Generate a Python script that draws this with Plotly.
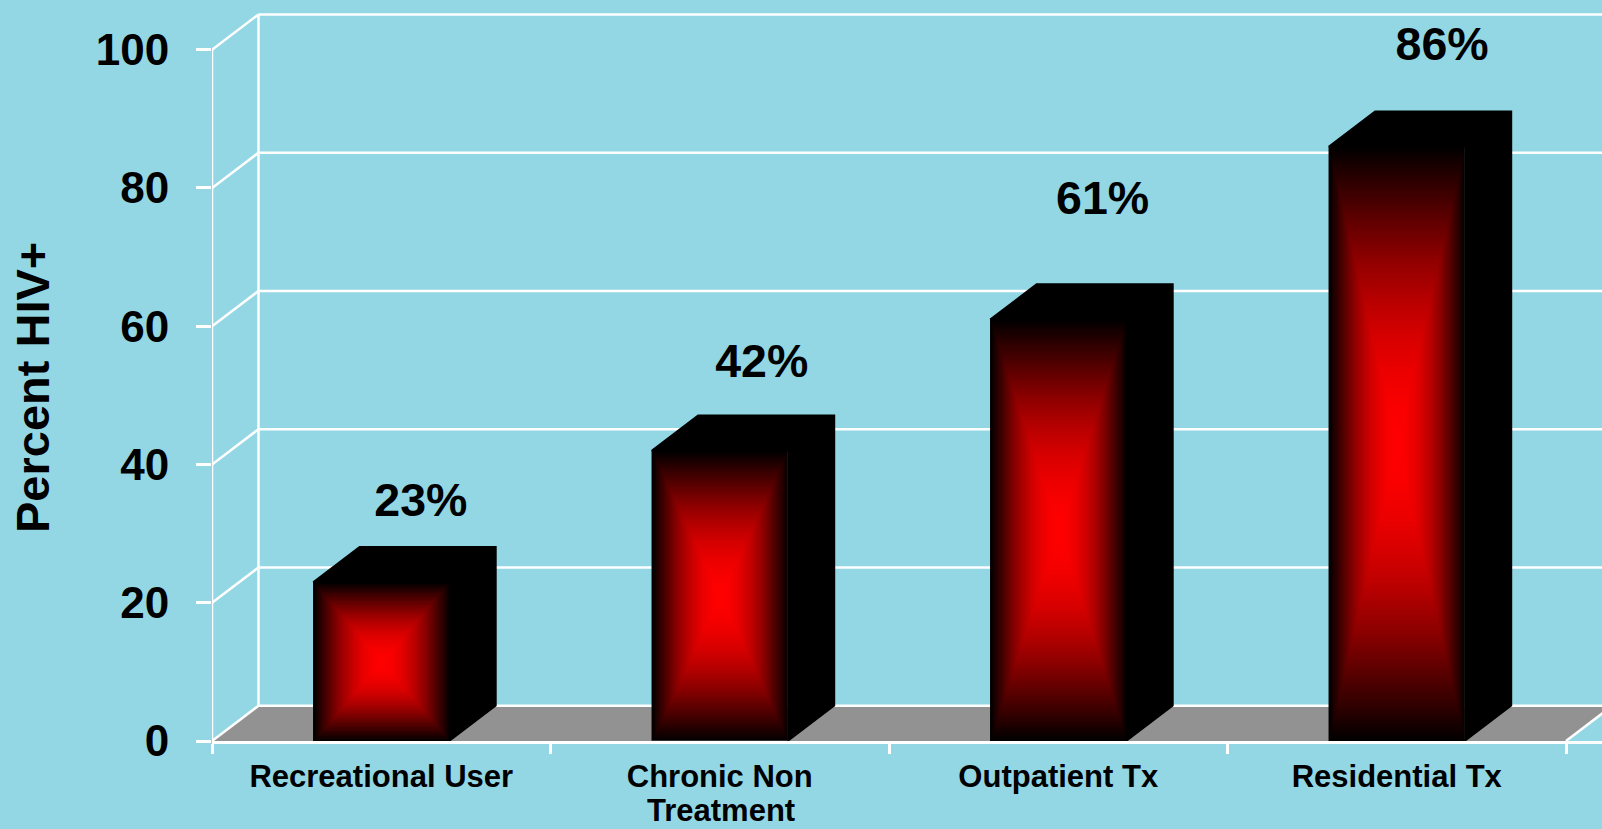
import numpy as np
import plotly.graph_objects as go

# ---- data ----
categories = ["Recreational User", "Chronic Non", "Outpatient Tx", "Residential Tx"]
second_line = "Treatment"
percent_hiv = [23, 42, 61, 86]
value_labels = ["23%", "42%", "61%", "86%"]
y_ticks = [0, 20, 40, 60, 80, 100]

# ---- style / layout constants ----
BG = "#93D7E5"
FLOOR = "#929292"
WHITE = "#FFFFFF"
FONT = "Liberation Sans"
W, H = 1602, 829
M_L, M_R, M_T, M_B = 212, 0, 8, 88
PX_PER_CAT = 338.5
PX_PER_VAL = 6.913
DEPTH_X = 46.5 / PX_PER_CAT      # oblique depth in axis units
DEPTH_Y = 35.3 / PX_PER_VAL
BAR_W = 0.403
LABEL_LIFT = [11.24, 12.36, 16.9, 14.15]   # height of value label above bar top
LABEL_SHIFT = [0.117, 0.124, 0.131, 0.134]
GRID_W = 2.5
NX, NY = 81, 121
GRADIENT = [[0, "#000000"], [0.125, "#320000"], [0.25, "#610000"], [0.375, "#8E0000"], [0.5, "#B40000"],
            [0.625, "#D40000"], [0.75, "#EB0000"], [0.875, "#FA0000"], [1, "#FF0000"]]

x_max = (W - M_L - M_R) / PX_PER_CAT
y_max = (H - M_T - M_B) / PX_PER_VAL
n_cat = len(categories)
plot_w, plot_h = W - M_L - M_R, H - M_T - M_B

fig = go.Figure()
shapes = []

# floor
shapes.append(dict(type="path", layer="below", xref="x", yref="y", line=dict(width=0), fillcolor=FLOOR,
                   path=f"M0,0 L{n_cat},0 L{n_cat+DEPTH_X},{DEPTH_Y} L{DEPTH_X},{DEPTH_Y} Z"))
# back wall gridlines and oblique side gridlines
for t in y_ticks:
    shapes.append(dict(type="line", layer="below", xref="x", yref="y", x0=DEPTH_X, x1=x_max,
                       y0=t + DEPTH_Y, y1=t + DEPTH_Y, line=dict(color=WHITE, width=GRID_W)))
    shapes.append(dict(type="line", layer="below", xref="x", yref="y", x0=0, x1=DEPTH_X,
                       y0=t, y1=t + DEPTH_Y, line=dict(color=WHITE, width=GRID_W)))
shapes.append(dict(type="line", layer="below", xref="x", yref="y", x0=DEPTH_X, x1=DEPTH_X,
                   y0=DEPTH_Y, y1=y_ticks[-1] + DEPTH_Y, line=dict(color=WHITE, width=GRID_W)))
shapes.append(dict(type="line", layer="below", xref="x", yref="y", x0=n_cat, x1=n_cat + DEPTH_X,
                   y0=0, y1=DEPTH_Y, line=dict(color=WHITE, width=GRID_W)))

# front vertical axis line, stopping at the top tick
fig.add_trace(go.Scatter(x=[0, 0], y=[y_ticks[0], y_ticks[-1]], mode="lines", line=dict(color=WHITE, width=GRID_W),
                         cliponaxis=False, hoverinfo="skip", showlegend=False))

# bars
for i, v in enumerate(percent_hiv):
    xl, xr = i + 0.5 - BAR_W / 2, i + 0.5 + BAR_W / 2
    # black top + side
    fig.add_trace(go.Scatter(
        x=[xl, xl + DEPTH_X, xr + DEPTH_X, xr + DEPTH_X, xr, xr, xl],
        y=[v, v + DEPTH_Y, v + DEPTH_Y, DEPTH_Y, 0, v, v],
        mode="lines", fill="toself", fillcolor="#000000", line=dict(color="#000000", width=1.5),
        hoverinfo="skip", showlegend=False))
    # front face: rectangular (mitered) black-to-red gradient; cell centres so its edges meet the bar's box
    hx, hy = (xr - xl) / (2 * NX), v / (2 * NY)
    xs = np.linspace(xl + hx, xr - hx, NX)
    ys = np.linspace(hy, v - hy, NY)
    u = np.abs((xs - (xl + xr) / 2) / ((xr - xl) / 2))
    w = np.abs((ys - v / 2) / (v / 2))
    z = 1 - np.maximum.outer(w, u)
    fig.add_trace(go.Heatmap(x=xs, y=ys, z=z, zmin=0, zmax=1, zsmooth="best", showscale=False,
                             colorscale=GRADIENT, hoverinfo="skip"))

# value labels
fig.add_trace(go.Scatter(
    x=[i + 0.5 + s for i, s in zip(range(n_cat), LABEL_SHIFT)],
    y=[v + l for v, l in zip(percent_hiv, LABEL_LIFT)],
    text=value_labels, mode="text", textposition="middle center",
    textfont=dict(family=FONT, size=46.5, color="#000000", weight=700),
    cliponaxis=False, hoverinfo="skip", showlegend=False))

fig.update_layout(
    width=W, height=H, autosize=False,
    margin=dict(l=M_L, r=M_R, t=M_T, b=M_B),
    paper_bgcolor=BG, plot_bgcolor="rgba(0,0,0,0)",
    shapes=shapes, showlegend=False,
    xaxis=dict(range=[0, x_max], showgrid=False, zeroline=False, showline=True, linecolor=WHITE, linewidth=3,
               tickmode="array", tickvals=[i + 0.5 for i in range(n_cat)], ticktext=categories,
               ticks="", ticklen=0, ticklabelstandoff=6,
               tickfont=dict(family=FONT, size=31, color="#000000", weight=700),
               minor=dict(tickmode="array", tickvals=list(range(n_cat + 1)), ticks="outside",
                          ticklen=10, tickwidth=GRID_W, tickcolor=WHITE, showgrid=False)),
    yaxis=dict(range=[0, y_max], showgrid=False, zeroline=False, showline=False,
               tickmode="array", tickvals=y_ticks, ticks="outside", ticklen=15, tickwidth=GRID_W, tickcolor=WHITE,
               ticklabelstandoff=18,
               tickfont=dict(family=FONT, size=44, color="#000000", weight=700)),
    annotations=[
        dict(text="Percent HIV+", textangle=-90, xref="paper", yref="paper",
             x=(33 - M_L) / plot_w, y=(H - M_B - 388) / plot_h,
             xanchor="center", yanchor="middle", showarrow=False,
             font=dict(family=FONT, size=47, color="#000000", weight=700)),
        dict(text=second_line, xref="paper", yref="paper",
             x=(721 - M_L) / plot_w, y=(H - M_B - 811) / plot_h,
             xanchor="center", yanchor="middle", showarrow=False,
             font=dict(family=FONT, size=31, color="#000000", weight=700)),
    ],
)

fig.write_html("out.html", config=dict(displayModeBar=False),
               post_script="document.body.style.margin='0';document.documentElement.style.overflow='hidden';"
                           "document.body.style.background='" + BG + "';")
